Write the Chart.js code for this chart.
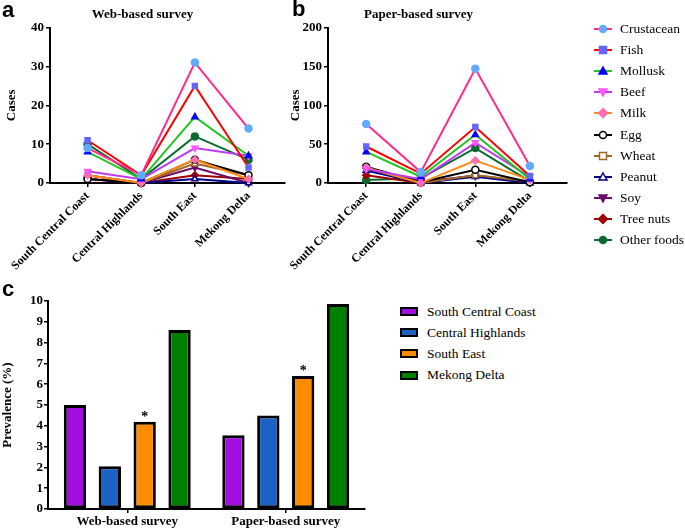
<!DOCTYPE html>
<html>
<head>
<meta charset="utf-8">
<script src="https://cdn.jsdelivr.net/npm/chart.js@4/dist/chart.umd.min.js"></script>
<style>
  body { margin: 0; background: #fff; }
  #wrap { position: relative; width: 685px; height: 530px; overflow: hidden; font-family: 'Liberation Serif', serif; color: #000; }
  canvas { position: absolute; }
  .panel { position: absolute; font-family: 'Liberation Sans', Arial, sans-serif; font-weight: bold; font-size: 22px; line-height: 22px; }
  .legend { position: absolute; font-size: 13.5px; }
  .legend .row { height: 21.2px; display: flex; align-items: center; white-space: nowrap; }
  .legend svg { margin-right: 8px; flex: none; }
</style>
</head>
<body>
<div id="wrap">
  <canvas id="chart-web" width="300" height="275" style="left:0;top:0"></canvas>
  <canvas id="chart-paper" width="330" height="275" style="left:270px;top:0"></canvas>
  <canvas id="chart-prev" width="370" height="250" style="left:0;top:280px"></canvas>
  <div class="panel" style="left:2px;top:-1px">a</div>
  <div class="panel" style="left:292px;top:-2px">b</div>
  <div class="panel" style="left:2px;top:278px">c</div>
  <div class="legend" id="legend-foods" style="left:594px;top:18px"></div>
  <div class="legend" id="legend-regions" style="left:400px;top:301px"></div>
</div>
<script>
// 지역 / 식품 분류
const regions = ['South Central Coast', 'Central Highlands', 'South East', 'Mekong Delta'];
const foods = ['Crustacean', 'Fish', 'Mollusk', 'Beef', 'Milk', 'Egg', 'Wheat', 'Peanut', 'Soy', 'Tree nuts', 'Other foods'];

// a: web-based survey cases (row = food, col = region)
const webCases = [
    [9, 2, 31, 14],
    [11, 2, 25, 4],
    [8, 1, 17, 7],
    [3, 1, 9, 7],
    [2, 0, 6, 1],
    [1, 0, 6, 2],
    [2, 0, 5, 2],
    [2, 0, 1, 0],
    [1, 0, 4, 0],
    [1, 0, 2, 1],
    [10, 1, 12, 6]
];

// b: paper-based survey cases
const paperCases = [
    [76, 14, 147, 22],
    [47, 12, 72, 9],
    [40, 8, 62, 5],
    [18, 5, 52, 8],
    [20, 0, 29, 4],
    [21, 1, 17, 1],
    [19, 0, 10, 2],
    [16, 0, 8, 0],
    [17, 2, 9, 1],
    [10, 0, 10, 1],
    [4, 6, 45, 2]
];

// c: prevalence (%)
const surveys = ['Web-based survey', 'Paper-based survey'];
const prevSouthCentralCoast = [5.0, 3.55];
const prevCentralHighlands = [2.05, 4.5];
const prevSouthEast = [4.2, 6.4];
const prevMekongDelta = [8.6, 9.85];
const southEastMarks = ['*', '*'];

// 스타일
const lineColors = ['#ff2a8a', '#ff0000', '#22c422', '#c03cf0', '#ff8c1a', '#000000', '#a0662a', '#00008b', '#6a0d6a', '#a00000', '#0b6b2e'];
const markerFills = ['#62aaff', '#6464ff', '#0000ff', '#ff55ff', '#ff6fb0', '#ffffff', '#ffffff', '#ffffff', '#6a0d6a', '#a00000', '#0b6b2e'];
const markerBorders = ['#62aaff', '#6464ff', '#0000ff', '#ff55ff', '#ff6fb0', '#000000', '#a0662a', '#00008b', '#6a0d6a', '#a00000', '#0b6b2e'];
const markerStyles = ['circle', 'rect', 'triangle', 'triangle', 'rectRot', 'circle', 'rect', 'triangle', 'triangle', 'rectRot', 'circle'];
const markerRotations = [0, 0, 0, 180, 0, 0, 0, 0, 180, 0, 0];
const regionColors = ['#a20de0', '#1a62c4', '#ff8c00', '#008000'];

const serif = "'Liberation Serif', 'Times New Roman', serif";

const makeLineChart = (id, title, values, yMax, yStep, yWidth, yTitlePad) => {
    const datasets = foods.map((name, i) => ({
        label: name,
        data: values[i].map((v, j) => ({ x: j, y: v })),
        borderColor: lineColors[i],
        borderWidth: 2,
        pointStyle: markerStyles[i],
        pointRotation: markerRotations[i],
        pointRadius: 3.5,
        pointBackgroundColor: markerFills[i],
        pointBorderColor: markerBorders[i],
        pointBorderWidth: 1.5,
        tension: 0,
        clip: false
    }));

    return new Chart(document.getElementById(id), {
        type: 'line',
        data: { datasets },
        options: {
            responsive: false,
            animation: false,
            devicePixelRatio: 1,
            layout: { padding: { left: 0, right: id === 'chart-web' ? 15 : 33, top: 0, bottom: 0 } },
            plugins: {
                legend: { display: false },
                tooltip: { enabled: false },
                title: {
                    display: true,
                    text: title,
                    color: '#000',
                    font: { family: serif, size: 13, weight: 'bold' },
                    padding: { top: 7, bottom: 5 }
                }
            },
            scales: {
                x: {
                    type: 'linear',
                    min: -0.7,
                    max: 3.68,
                    afterBuildTicks: s => { s.ticks = regions.map((_, i) => ({ value: i })); },
                    afterFit: s => { s.height = 92; s.paddingLeft = 0; s.paddingRight = 0; },
                    grid: { drawOnChartArea: false, drawTicks: true, tickLength: 4, color: '#000', lineWidth: 1.5 },
                    border: { color: '#000', width: 2 },
                    ticks: {
                        autoSkip: false,
                        maxRotation: 45,
                        minRotation: 45,
                        padding: 2,
                        color: '#000',
                        font: { family: serif, size: 12, weight: 'bold' },
                        callback: v => regions[v]
                    }
                },
                y: {
                    min: 0,
                    max: yMax,
                    afterFit: s => { s.width = yWidth; },
                    grid: { drawOnChartArea: false, drawTicks: true, tickLength: 4, color: '#000', lineWidth: 1.5 },
                    border: { color: '#000', width: 2 },
                    ticks: {
                        stepSize: yStep,
                        padding: 2,
                        color: '#000',
                        font: { family: serif, size: 13, weight: 'bold' }
                    },
                    title: {
                        display: true,
                        text: 'Cases',
                        color: '#000',
                        font: { family: serif, size: 13, weight: 'bold' },
                        padding: { top: yTitlePad, bottom: 0 }
                    }
                }
            }
        }
    });
};

makeLineChart('chart-web', 'Web-based survey', webCases, 40, 10, 50, 4);
makeLineChart('chart-paper', 'Paper-based survey', paperCases, 200, 50, 58, 18);

// 별표(유의성) 표시
const starPlugin = {
    id: 'stars',
    afterDatasetsDraw(chart) {
        const ctx = chart.ctx;
        const meta = chart.getDatasetMeta(2);
        ctx.save();
        ctx.fillStyle = '#000';
        ctx.font = `bold 14px ${serif}`;
        ctx.textAlign = 'center';
        ctx.textBaseline = 'bottom';
        meta.data.forEach((bar, i) => ctx.fillText(southEastMarks[i], bar.x, bar.y + 3));
        ctx.restore();
    }
};

const prevSeries = [prevSouthCentralCoast, prevCentralHighlands, prevSouthEast, prevMekongDelta];

new Chart(document.getElementById('chart-prev'), {
    type: 'bar',
    data: {
        labels: surveys,
        datasets: regions.map((name, i) => ({
            label: name,
            data: prevSeries[i],
            backgroundColor: regionColors[i],
            borderColor: '#000',
            borderWidth: 3,
            borderSkipped: false,
            categoryPercentage: 0.88,
            barPercentage: 0.64
        }))
    },
    options: {
        responsive: false,
        animation: false,
        devicePixelRatio: 1,
        layout: { padding: { left: 0, right: 5, top: 21, bottom: 0 } },
        plugins: { legend: { display: false }, tooltip: { enabled: false } },
        scales: {
            x: {
                afterFit: s => { s.height = 21; },
                grid: { drawOnChartArea: false, offset: false, tickLength: 4, color: '#000', lineWidth: 1.5 },
                border: { color: '#000', width: 2 },
                ticks: { padding: 1, color: '#000', font: { family: serif, size: 13, weight: 'bold' } }
            },
            y: {
                min: 0,
                max: 10,
                afterFit: s => { s.width = 48; },
                grid: { drawOnChartArea: false, tickLength: 4, color: '#000', lineWidth: 1.5 },
                border: { color: '#000', width: 2 },
                ticks: { stepSize: 1, padding: 1, color: '#000', font: { family: serif, size: 13, weight: 'bold' } },
                title: {
                    display: true,
                    text: 'Prevalence (%)',
                    color: '#000',
                    font: { family: serif, size: 13, weight: 'bold' },
                    padding: { top: 0, bottom: 0 }
                }
            }
        }
    },
    plugins: [starPlugin]
});

// 범례 (HTML)
const markerSvg = (i) => {
    const c = 9, r = 3.5;
    const fill = markerFills[i], stroke = markerBorders[i];
    let shape = '';
    const st = markerStyles[i];
    if (st === 'circle') shape = `<circle cx="${c}" cy="6" r="${r}" fill="${fill}" stroke="${stroke}" stroke-width="1.5"/>`;
    else if (st === 'rect') shape = `<rect x="${c - r}" y="${6 - r}" width="${2 * r}" height="${2 * r}" fill="${fill}" stroke="${stroke}" stroke-width="1.5"/>`;
    else if (st === 'rectRot') shape = `<polygon points="${c},${6 - r - 1} ${c + r + 1},6 ${c},${6 + r + 1} ${c - r - 1},6" fill="${fill}" stroke="${stroke}" stroke-width="1.5"/>`;
    else {
        const d = markerRotations[i] ? -1 : 1;
        shape = `<polygon points="${c},${6 - d * 4} ${c + 4},${6 + d * 3} ${c - 4},${6 + d * 3}" fill="${fill}" stroke="${stroke}" stroke-width="1.5"/>`;
    }
    return `<svg width="18" height="12"><line x1="0" y1="6" x2="18" y2="6" stroke="${lineColors[i]}" stroke-width="2"/>${shape}</svg>`;
};

document.getElementById('legend-foods').innerHTML = foods
    .map((name, i) => `<div class="row">${markerSvg(i)}<span>${name}</span></div>`).join('');

document.getElementById('legend-regions').innerHTML = regions
    .map((name, i) => `<div class="row"><svg width="18" height="9" style="margin-right:9px"><rect x="1" y="1" width="16" height="7" fill="${regionColors[i]}" stroke="#000" stroke-width="2"/></svg><span>${name}</span></div>`).join('');
</script>
</body>
</html>
